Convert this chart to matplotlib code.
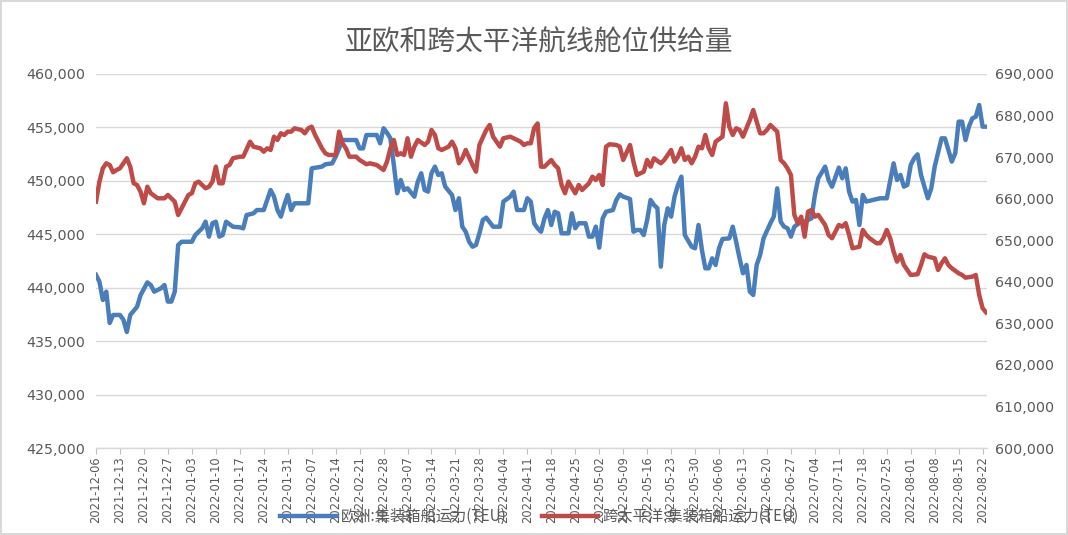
import matplotlib
matplotlib.use("Agg")
import matplotlib.pyplot as plt
import matplotlib.dates as mdates
import matplotlib.ticker as mticker
import pandas as pd

# ---- data (day offset from 2021-12-06, value in TEU) ----
start_date = "2021-12-06"
end_date = "2022-08-22"

eu_day = [0, 1, 2, 3, 4, 5, 7, 8, 9, 10, 12, 13, 15, 16, 17, 19, 20, 21, 22, 23,
          24, 25, 28, 29, 31, 32, 33, 34, 35, 36, 37, 38, 40, 42, 43, 44, 46, 47, 49, 51,
          52, 53, 54, 55, 56, 57, 58, 61, 62, 63, 66, 67, 69, 70, 72, 73, 76, 77, 78, 79,
          81, 82, 83, 84, 85, 86, 87, 88, 89, 90, 91, 93, 94, 95, 96, 97, 98, 99, 100, 101,
          102, 104, 105, 106, 107, 108, 109, 110, 111, 112, 113, 114, 116, 118, 119, 121, 122, 123, 125, 126,
          127, 128, 129, 130, 131, 132, 133, 134, 135, 136, 138, 139, 140, 141, 143, 144, 145, 146, 147, 148,
          149, 151, 152, 153, 154, 156, 157, 158, 159, 160, 161, 162, 163, 164, 165, 166, 167, 168, 169, 170,
          171, 172, 174, 175, 176, 177, 178, 179, 180, 181, 182, 183, 185, 186, 187, 188, 189, 190, 191, 192,
          193, 194, 195, 197, 198, 199, 200, 201, 202, 203, 204, 206, 207, 209, 210, 211, 213, 214, 215, 217,
          218, 219, 220, 221, 222, 223, 224, 225, 227, 229, 231, 233, 234, 235, 236, 237, 238, 239, 240, 241,
          243, 244, 245, 247, 248, 249, 250, 251, 252, 253, 254, 255, 256, 257, 258, 259, 260]
eu_teu = [441200, 440560, 438850, 439630, 436700, 437450, 437450, 437000, 435860, 437450,
          438220, 439300, 440500, 440250, 439630, 439950, 440250, 438700, 438700, 439630,
          444000, 444300, 444300, 444930, 445560, 446180, 444780, 446030, 446180, 444780,
          444930, 446180, 445710, 445650, 445560, 446800, 446960, 447270, 447270, 449140,
          448520, 447270, 446650, 447740, 448680, 447270, 447900, 447900, 447900, 451170,
          451330, 451550, 451640, 452260, 453820, 453820, 453820, 453040, 453040, 454290,
          454290, 454290, 453510, 454920, 454500, 453980, 451480, 448840, 450080, 449140,
          449300, 448520, 449920, 450710, 449140, 448990, 450710, 451330, 450550, 450710,
          449460, 448680, 447270, 448370, 445710, 445240, 444300, 443840, 444000, 445090,
          446340, 446560, 445710, 445710, 448060, 448520, 448990, 447270, 447270, 448370,
          448060, 446030, 445560, 445240, 446490, 447270, 445870, 447110, 446960, 445090,
          445090, 446960, 445560, 446030, 446030, 444780, 444780, 445710, 443750, 446490,
          447110, 447270, 448210, 448740, 448520, 448300, 445240, 445400, 445400, 444930,
          446340, 448210, 447740, 447430, 441970, 445870, 447430, 446650, 448520, 449610,
          450390, 444930, 443840, 443690, 445870, 443530, 441820, 441820, 442750, 442130,
          443690, 444560, 444620, 445710, 444300, 442750, 441350, 442130, 439630, 439320,
          442130, 443060, 444620, 446030, 446650, 449300, 446180, 445710, 445560, 444780,
          445710, 446180, 446180, 446490, 448680, 450240, 451330, 450080, 449450, 451240,
          450240, 451170, 448990, 448060, 448210, 445870, 448680, 448060, 448210, 448370,
          448370, 451640, 450080, 450550, 449460, 449610, 451480, 452110, 452480, 450550,
          448370, 449300, 451330, 453980, 453980, 452890, 451800, 452580, 455540, 455540,
          453820, 455070, 455850, 456000, 457100, 455070, 455070]

tp_day = [0, 1, 2, 3, 4, 5, 6, 7, 9, 10, 11, 12, 13, 14, 15, 16, 18, 20, 21, 23,
          24, 26, 27, 28, 29, 30, 32, 33, 34, 35, 36, 37, 38, 39, 40, 42, 43, 45, 46, 48,
          49, 50, 51, 52, 53, 54, 55, 56, 57, 58, 60, 61, 62, 63, 64, 66, 67, 68, 70, 71,
          72, 73, 74, 76, 77, 79, 80, 82, 84, 85, 86, 87, 88, 89, 90, 91, 92, 93, 94, 96,
          97, 98, 99, 100, 101, 103, 104, 105, 106, 107, 108, 110, 111, 112, 114, 115, 116, 118, 119, 121,
          122, 124, 125, 126, 127, 128, 129, 130, 131, 133, 134, 135, 136, 137, 138, 140, 141, 142, 144, 145,
          146, 147, 148, 149, 150, 152, 153, 154, 156, 157, 158, 160, 161, 162, 163, 165, 166, 168, 169, 170,
          171, 172, 173, 174, 175, 176, 177, 178, 179, 180, 181, 183, 184, 185, 186, 187, 188, 189, 191, 192,
          193, 194, 195, 196, 197, 198, 199, 200, 201, 202, 203, 204, 205, 206, 207, 208, 209, 210, 211, 213,
          214, 215, 217, 218, 219, 220, 221, 223, 224, 225, 226, 228, 229, 230, 231, 232, 233, 234, 235, 236,
          238, 240, 241, 242, 243, 245, 246, 247, 248, 249, 250, 252, 253, 254, 256, 257, 258, 259, 260]
tp_teu = [659300, 664100, 667300, 668510, 668100, 666350, 666900, 667310, 669720, 667700,
          663700, 663290, 661680, 658890, 662880, 661300, 660090, 660090, 660890, 659270,
          656080, 659270, 660890, 661300, 663700, 664090, 662500, 662880, 664090, 667700,
          663700, 663700, 667700, 668100, 669720, 670100, 670100, 673710, 672510, 672120,
          671300, 672120, 671710, 674910, 674120, 675730, 675320, 676120, 676120, 676930,
          676530, 675730, 676930, 677320, 675320, 672120, 670920, 670510, 670510, 676120,
          673330, 672120, 670100, 670100, 669310, 668280, 668510, 668100, 666900, 668900,
          672120, 674120, 670510, 670920, 670510, 674530, 670100, 672510, 674120, 672920,
          673710, 676530, 675320, 672120, 671710, 672510, 673710, 672120, 668510, 669720,
          671710, 668100, 666490, 672920, 676530, 677730, 674910, 672510, 674530, 674910,
          674530, 673710, 672920, 673330, 673330, 677000, 678100, 667700, 667700, 669310,
          668100, 667310, 663290, 661300, 664090, 661300, 663290, 662090, 663700, 665290,
          664500, 665700, 663290, 672510, 673090, 672920, 672510, 669310, 672920, 668900,
          665700, 666490, 669310, 667700, 669720, 668510, 669310, 671710, 668900, 670100,
          672120, 669310, 670100, 668510, 670100, 672510, 672120, 675320, 672120, 670510,
          673710, 674910, 682950, 677320, 675320, 676930, 676530, 674910, 678930, 681340,
          678520, 675730, 675730, 676530, 677730, 676930, 676120, 669310, 668510, 667310,
          665700, 656080, 654090, 655670, 650850, 656870, 657280, 655670, 656080, 653670,
          651260, 650470, 653670, 653260, 654090, 651260, 648060, 648450, 652470, 651260,
          650470, 649270, 649270, 650470, 652470, 650470, 647250, 644840, 646450, 644040,
          641640, 641810, 644040, 646620, 646050, 645650, 642840, 644450, 645650, 644040,
          643250, 642050, 641640, 640990, 641240, 641640, 636830, 633630, 632650]

title_text = "亚欧和跨太平洋航线舱位供给量"
eu_label = "欧洲:集装箱船运力(TEU)"
tp_label = "跨太平洋:集装箱船运力(TEU)"

# ---- styling ----
cjk = ["Noto Sans CJK SC", "DejaVu Sans"]
grey_txt = "#595959"
blue = "#4A7EBB"
red = "#BE4B48"

t0 = pd.Timestamp(start_date)
eu_x = t0 + pd.to_timedelta(eu_day, unit="D")
tp_x = t0 + pd.to_timedelta(tp_day, unit="D")

fig = plt.figure(figsize=(10.68, 5.35), dpi=100)
fig.patch.set_facecolor("white")
fig.patch.set_edgecolor("#d9d9d9")
fig.patch.set_linewidth(1.5)

ax = fig.add_axes([0.0899, 0.1626, 0.834, 0.6991])
ax2 = ax.twinx()

l1, = ax.plot(eu_x, eu_teu, color=blue, lw=3.2, solid_joinstyle="round", label=eu_label, zorder=3)
l2, = ax2.plot(tp_x, tp_teu, color=red, lw=3.2, solid_joinstyle="round", label=tp_label, zorder=3)

ax.set_ylim(425000, 460000)
ax.yaxis.set_major_locator(mticker.MultipleLocator(5000))
ax2.set_ylim(600000, 690000)
ax2.yaxis.set_major_locator(mticker.MultipleLocator(10000))
fmt = mticker.FuncFormatter(lambda v, p: f"{int(v):,}")
ax.yaxis.set_major_formatter(fmt)
ax2.yaxis.set_major_formatter(fmt)

x_end = pd.Timestamp(end_date)
ax.set_xlim(t0, x_end + pd.Timedelta(days=1.2))
ticks = pd.date_range(t0, x_end, freq="7D")
ax.set_xticks(ticks)
ax.xaxis.set_major_formatter(mdates.DateFormatter("%Y-%m-%d"))
for lab in ax.get_xticklabels():
    lab.set_rotation(90)

ax.grid(axis="y", color="#d9d9d9", lw=1.0)
ax.set_axisbelow(True)
for a in (ax, ax2):
    for s in ("top", "left", "right", "bottom"):
        a.spines[s].set_visible(False)
ax.spines["bottom"].set_visible(True)
ax.spines["bottom"].set_color("#d9d9d9")
ax.spines["bottom"].set_linewidth(1.0)

ax.tick_params(axis="x", colors="#bfbfbf", length=4, width=0.8, labelsize=8.3,
               labelcolor=grey_txt, pad=2)
ax.tick_params(axis="y", length=0, labelsize=10.3, labelcolor=grey_txt, pad=8)
ax2.tick_params(axis="y", length=0, labelsize=10.3, labelcolor=grey_txt, pad=6)

fig.text(0.505, 0.921, title_text, ha="center", va="center", fontsize=20,
         color=grey_txt, family=cjk)

fig.legend(handles=[l1, l2], loc="center", bbox_to_anchor=(0.505, 0.034), ncol=2,
           frameon=False, handlelength=3.7, columnspacing=2.3, handletextpad=0.25,
           prop={"family": cjk, "size": 11}, labelcolor=grey_txt)

fig.savefig("out.png", dpi=100, facecolor=fig.get_facecolor(), edgecolor=fig.get_edgecolor())
